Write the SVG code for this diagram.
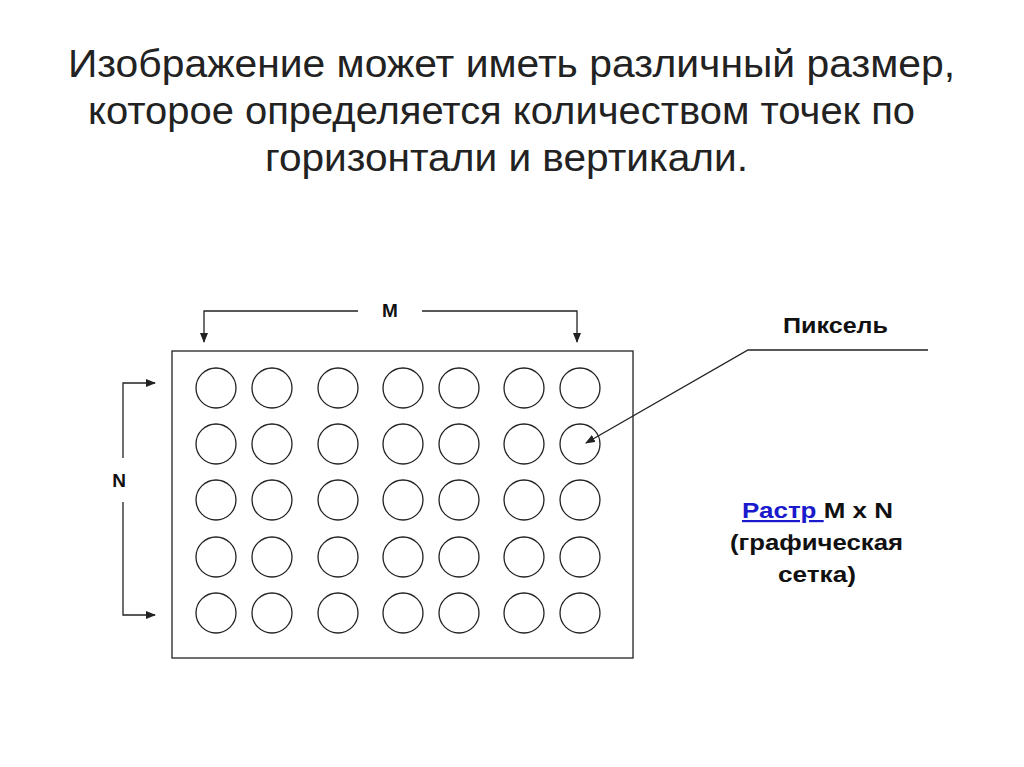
<svg xmlns="http://www.w3.org/2000/svg" width="1024" height="767" viewBox="0 0 1024 767">
<style>
.t{font-family:"Liberation Sans",Arial,sans-serif;fill:#222}
.b{font-family:"Liberation Sans",Arial,sans-serif;font-weight:bold;font-size:19px;fill:#111}
.r{font-family:"Liberation Sans",Arial,sans-serif;font-weight:bold;font-size:22px;fill:#111}
.l{fill:none;stroke:#222;stroke-width:1.3}
.c{fill:#fff;stroke:#222;stroke-width:1.3}
</style>
<defs><marker id="a" markerWidth="10" markerHeight="8" refX="9" refY="4" orient="auto" markerUnits="userSpaceOnUse"><path d="M0,0L10,4L0,8z" fill="#222"/></marker></defs>
<rect width="1024" height="767" fill="#fff"/>
<g id="title" class="t" font-size="38">
<text x="68" y="77" textLength="887" lengthAdjust="spacingAndGlyphs">Изображение может иметь различный размер,</text>
<text x="88" y="124" textLength="827" lengthAdjust="spacingAndGlyphs">которое определяется количеством точек по</text>
<text x="265" y="171" textLength="483" lengthAdjust="spacingAndGlyphs">горизонтали и вертикали.</text>
</g>
<g id="grid">
<rect x="172" y="351" width="461" height="307" class="l"/>
<g class="c">
<circle cx="216" cy="388" r="20"/><circle cx="272" cy="388" r="20"/><circle cx="338" cy="388" r="20"/><circle cx="403" cy="388" r="20"/><circle cx="459" cy="388" r="20"/><circle cx="524" cy="388" r="20"/><circle cx="580" cy="388" r="20"/>
<circle cx="216" cy="444" r="20"/><circle cx="272" cy="444" r="20"/><circle cx="338" cy="444" r="20"/><circle cx="403" cy="444" r="20"/><circle cx="459" cy="444" r="20"/><circle cx="524" cy="444" r="20"/><circle cx="580" cy="444" r="20"/>
<circle cx="216" cy="500" r="20"/><circle cx="272" cy="500" r="20"/><circle cx="338" cy="500" r="20"/><circle cx="403" cy="500" r="20"/><circle cx="459" cy="500" r="20"/><circle cx="524" cy="500" r="20"/><circle cx="580" cy="500" r="20"/>
<circle cx="216" cy="557" r="20"/><circle cx="272" cy="557" r="20"/><circle cx="338" cy="557" r="20"/><circle cx="403" cy="557" r="20"/><circle cx="459" cy="557" r="20"/><circle cx="524" cy="557" r="20"/><circle cx="580" cy="557" r="20"/>
<circle cx="216" cy="613" r="20"/><circle cx="272" cy="613" r="20"/><circle cx="338" cy="613" r="20"/><circle cx="403" cy="613" r="20"/><circle cx="459" cy="613" r="20"/><circle cx="524" cy="613" r="20"/><circle cx="580" cy="613" r="20"/>
</g>
</g>
<g id="connectors" class="l">
<path d="M358,311H204V342" marker-end="url(#a)"/>
<path d="M422,311H577V342" marker-end="url(#a)"/>
<path d="M123,458V383H155" marker-end="url(#a)"/>
<path d="M123,502V615H155" marker-end="url(#a)"/>
<path d="M928,350H748L586,443" marker-end="url(#a)"/>
</g>
<g id="labels">
<text x="390" y="317" class="b" text-anchor="middle">M</text>
<text x="119" y="487" class="b" text-anchor="middle">N</text>
<text x="783" y="333" class="r" textLength="105" lengthAdjust="spacingAndGlyphs">Пиксель</text>
<text x="742" y="518" class="r" textLength="151" lengthAdjust="spacingAndGlyphs"><tspan fill="#1a1acc" text-decoration="underline">Растр </tspan>M x N</text>
<text x="730" y="550" class="r" textLength="173" lengthAdjust="spacingAndGlyphs">(графическая</text>
<text x="778" y="582" class="r" textLength="78" lengthAdjust="spacingAndGlyphs">сетка)</text>
</g>
</svg>
